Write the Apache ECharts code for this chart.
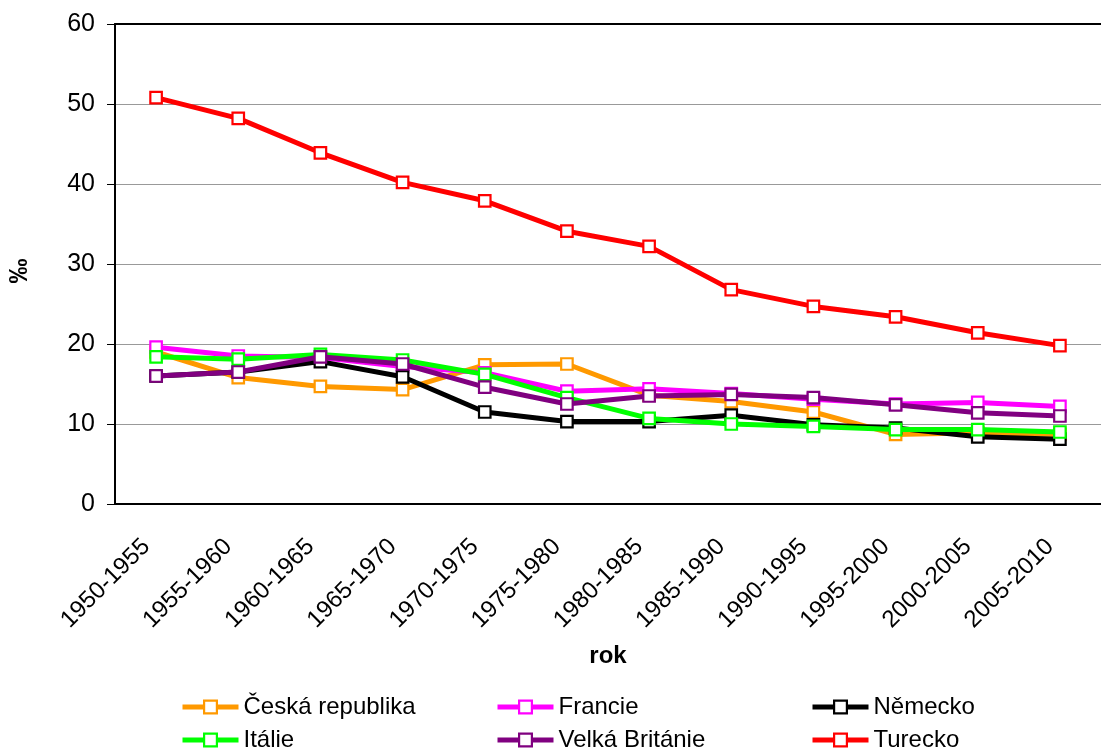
<!DOCTYPE html>
<html>
<head>
<meta charset="utf-8">
<script src="https://cdn.jsdelivr.net/npm/echarts@6/dist/echarts.min.js"></script>
<style>
	html, body { margin: 0; padding: 0; background: #fff; }
	#chart-div { width: 1101px; height: 751px; }
</style>
</head>
<body>
<div id="chart-div"></div>
<script>
// 时间段
var g_years = ["1950-1955", "1955-1960", "1960-1965", "1965-1970",
	       "1970-1975", "1975-1980", "1980-1985", "1985-1990",
	       "1990-1995", "1995-2000", "2000-2005", "2005-2010"];

// 各国数据 (‰)
var g_cz = [19.0, 15.8, 14.7, 14.3, 17.4, 17.5, 13.6, 12.8, 11.5, 8.7, 8.9, 8.7];
var g_fr = [19.6, 18.5, 18.3, 17.2, 16.4, 14.1, 14.4, 13.8, 13.1, 12.5, 12.7, 12.2];
var g_de = [16.0, 16.5, 17.8, 15.9, 11.5, 10.3, 10.3, 11.1, 9.9, 9.5, 8.4, 8.1];
var g_it = [18.4, 18.1, 18.7, 18.0, 16.2, 13.3, 10.7, 10.0, 9.7, 9.3, 9.3, 9.0];
var g_uk = [16.0, 16.5, 18.4, 17.5, 14.6, 12.5, 13.5, 13.7, 13.3, 12.4, 11.4, 11.0];
var g_tr = [50.8, 48.2, 43.9, 40.2, 37.9, 34.1, 32.2, 26.8, 24.7, 23.4, 21.4, 19.8];

var g_names = ["Česká republika", "Francie", "Německo",
	       "Itálie", "Velká Británie", "Turecko"];
var g_colors = ["#ff9900", "#ff00ff", "#000000",
		"#00ff00", "#800080", "#ff0000"];
var g_values = [g_cz, g_fr, g_de, g_it, g_uk, g_tr];

var g_font = "Liberation Sans, Arial, sans-serif";

// 图例位置: 三列两行
var g_legend_left = [180, 495, 810];
var g_legend_top = [695, 728];

var g_chart = echarts.init(document.getElementById("chart-div"));

var g_option = {
	animation: false,
	backgroundColor: "#fff",
	textStyle: { fontFamily: g_font },
	grid: {
		left: 115,
		top: 24,
		right: -8.5,
		bottom: 247
	},
	legend: g_names.map((n, i) => ({
		data: [n],
		left: g_legend_left[i % 3],
		top: g_legend_top[Math.floor(i / 3)],
		padding: 0,
		itemWidth: 56,
		itemHeight: 16,
		selectedMode: false,
		lineStyle: { width: 5 },
		itemStyle: { borderWidth: 2.2 },
		textStyle: {
			fontFamily: g_font,
			fontSize: 24,
			color: "#000"
		}
	})),
	xAxis: [{
		type: "category",
		data: g_years,
		boundaryGap: true,
		name: "rok",
		nameLocation: "middle",
		nameGap: 140,
		nameTextStyle: {
			fontFamily: g_font,
			fontSize: 24,
			fontWeight: "bold",
			color: "#000"
		},
		axisLine: { lineStyle: { color: "#000", width: 2 } },
		axisTick: { length: 7, lineStyle: { color: "#000" } },
		axisLabel: {
			rotate: 45,
			interval: 0,
			margin: 29,
			padding: [0, 14, 0, 0],
			fontFamily: g_font,
			fontSize: 24,
			color: "#000"
		}
	}, {
		// 上边框
		type: "category",
		data: g_years,
		position: "top",
		axisLine: { lineStyle: { color: "#000", width: 2 } },
		axisTick: { show: false },
		axisLabel: { show: false }
	}],
	yAxis: {
		type: "value",
		min: 0,
		max: 60,
		interval: 10,
		name: "‰",
		nameLocation: "middle",
		nameRotate: 90,
		nameGap: 82,
		nameTextStyle: {
			fontFamily: g_font,
			fontSize: 25,
			fontWeight: "bold",
			color: "#000",
			padding: [0, 14, 0, 0]
		},
		axisLine: { show: true, lineStyle: { color: "#000", width: 2 } },
		axisTick: { show: true, length: 8, lineStyle: { color: "#000" } },
		axisLabel: {
			margin: 20,
			fontFamily: g_font,
			fontSize: 25,
			color: "#000"
		},
		splitLine: { lineStyle: { color: "#999", width: 1 } }
	},
	series: g_names.map((n, i) => ({
		name: n,
		type: "line",
		data: g_values[i],
		symbol: "rect",
		symbolSize: 11.5,
		lineStyle: { color: g_colors[i], width: 5 },
		itemStyle: {
			color: "#fff",
			borderColor: g_colors[i],
			borderWidth: 2.2
		},
		z: 2 + i
	}))
};

g_chart.setOption(g_option);
window.addEventListener("resize", g_chart.resize);
</script>
</body>
</html>
